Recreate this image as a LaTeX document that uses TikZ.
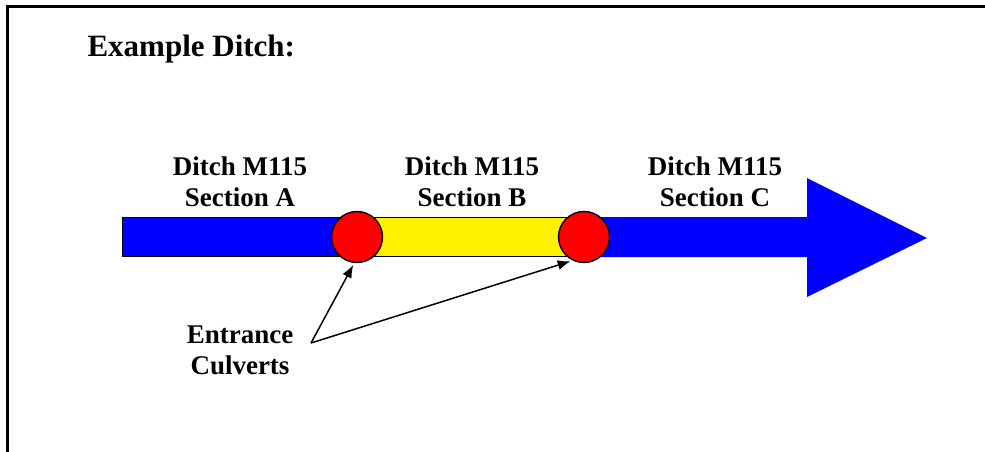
\documentclass[tikz,border=0pt]{standalone}
\usepackage{fontspec}
\setmainfont{Liberation Serif}
\usetikzlibrary{arrows.meta}

\tikzset{
  seclabel/.style={align=center, font=\fontsize{27}{31}\selectfont\bfseries},
  culvert/.style={circle, draw=black, line width=1.4pt, fill=red,
        minimum size=51pt, inner sep=0pt},
  barpart/.style={draw=black, line width=1pt},
  pointer/.style={-{Latex[length=13pt,width=10pt]}, line width=1.5pt,
        shorten >=2pt}
}

\begin{document}
\begin{tikzpicture}[x=1pt, y=-1pt]
  \useasboundingbox (0,0) rectangle (985,451);
  % frame (cut off at right and bottom)
  \draw[line width=3pt] (7,460) -- (7,6) -- (995,6);

  \node[anchor=base west, font=\fontsize{31}{36}\selectfont\bfseries]
        (title) at (84,56) {Example Ditch:};

  % ditch sections
  \fill[blue] (590,217) -- (807,217) -- (807,178) -- (927,238)
        -- (807,297) -- (807,257) -- (590,257) -- cycle;
  \draw[barpart, fill=blue] (122,217) rectangle (345,256);
  \draw[barpart, fill=yellow] (355,217) rectangle (585,256);
  \node[culvert] (culvA) at (357,237) {};
  \node[culvert] (culvB) at (584,237) {};

  \node[seclabel] (secA) at (240,182) {Ditch M115\\Section A};
  \node[seclabel] (secB) at (472,182) {Ditch M115\\Section B};
  \node[seclabel] (secC) at (715,182) {Ditch M115\\Section C};

  \node[seclabel] (entr) at (240,350) {Entrance\\Culverts};
  \coordinate (split) at (311,343);
  \draw[pointer] (split) -- (culvA.264);
  \draw[pointer] (split) -- (culvB.244);
\end{tikzpicture}
\end{document}
